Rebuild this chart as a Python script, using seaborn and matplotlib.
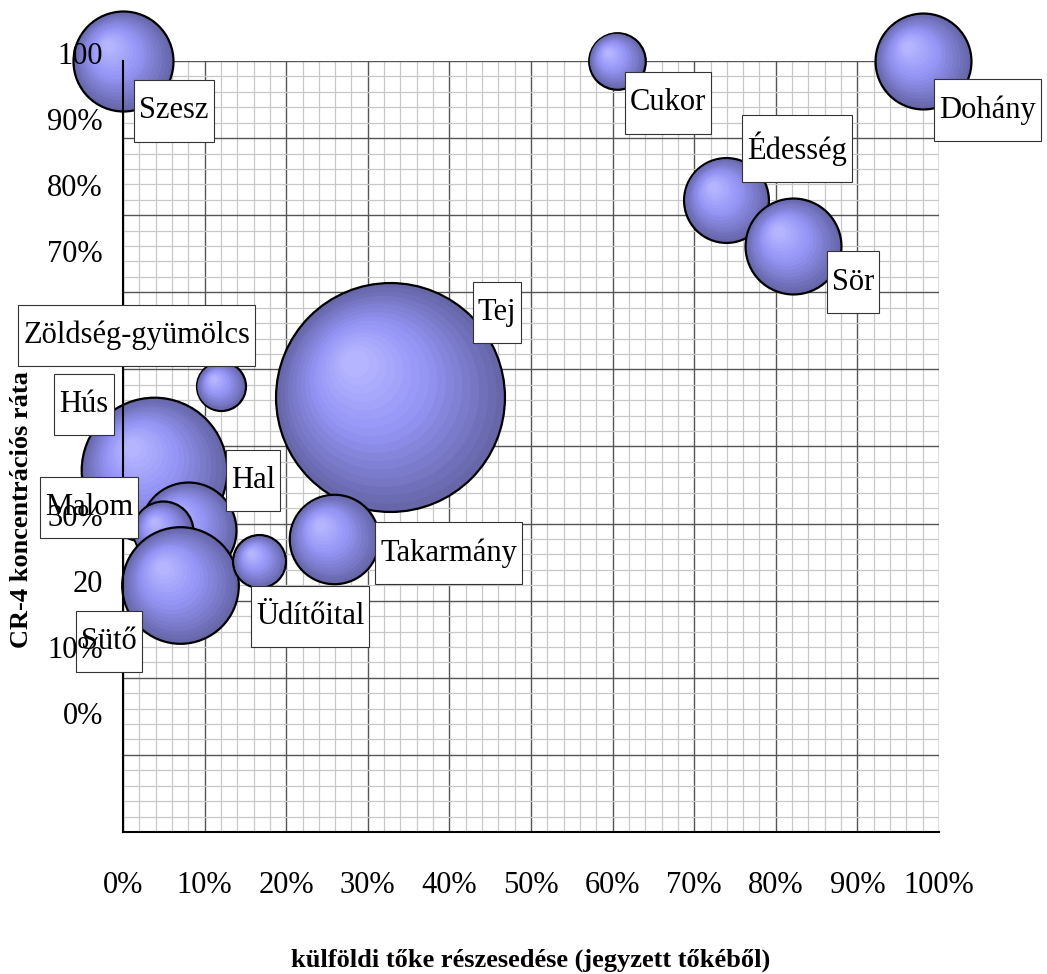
import numpy as np
import pandas as pd
import seaborn as sns
import matplotlib.pyplot as plt
from matplotlib.ticker import MultipleLocator, PercentFormatter
from matplotlib.transforms import ScaledTranslation
from matplotlib.offsetbox import TextArea, VPacker, DrawingArea, AnnotationBbox

# adatok (abrarol leolvasva)
agazat = ["Szesz", "Cukor", "Dohány", "Édesség", "Sör", "Tej", "Takarmány",
          "Zöldség-gyümölcs", "Hús", "Hal", "Malom", "Sütő", "Üdítőital"]
kulfoldi_toke = [0.00, 0.605, 0.98, 0.739, 0.821, 0.327, 0.258,
                 0.120, 0.038, 0.080, 0.049, 0.070, 0.167]
cr4 = [1.00, 1.00, 1.00, 0.82, 0.76, 0.564, 0.38,
       0.578, 0.47, 0.392, 0.39, 0.32, 0.351]
meret = [25, 8, 23, 18, 23, 131, 20, 6, 53, 23, 9, 34, 7]

# az y tengely feliratai ugy, ahogy a kepen latszanak
y_ertekek = np.arange(0, 1.01, 0.1)
y_feliratok = ["0%", "10%", "20", "30%", "", "", "", "70%", "80%", "90%", "100"]

# cimke dobozok eltolasa (pixel, jobbra / lefele)
cimke_eltolas = {
    "Szesz": (51, 50), "Cukor": (51, 42), "Dohány": (65, 49),
    "Édesség": (71, -51), "Sör": (60, 36), "Tej": (107, -85),
    "Takarmány": (115, 14), "Zöldség-gyümölcs": (-84, -51),
    "Hús": (-70, -65), "Hal": (65, -49), "Malom": (-74, -24),
    "Sütő": (-71, 56), "Üdítőital": (51, 55),
}

df = pd.DataFrame({"agazat": agazat, "kulfoldi": kulfoldi_toke,
                   "cr4": cr4, "meret": meret})

sns.set_style("white")
plt.rcParams["font.family"] = ["Liberation Serif", "DejaVu Serif"]
plt.rcParams.update({"text.color": "black", "axes.labelcolor": "black",
                     "xtick.color": "black", "ytick.color": "black"})

W, H = 1047, 974
fig = plt.figure(figsize=(W / 100, H / 100), dpi=100)
ax = fig.add_axes([123 / W, (H - 832) / H, 816 / W, 771 / H])

# racs
ax.set_xlim(0, 1)
ax.set_ylim(0, 1)
for a in (ax.xaxis, ax.yaxis):
    a.set_major_locator(MultipleLocator(0.1))
    a.set_minor_locator(MultipleLocator(0.02))
ax.set_axisbelow(True)
ax.grid(which="minor", color="#c8c8c8", lw=0.9)
ax.grid(which="major", color="#555555", lw=1.0)
ax.xaxis.set_major_formatter(PercentFormatter(1, decimals=0))
ax.tick_params(which="major", direction="out", length=7, width=1, color="black")
ax.tick_params(which="minor", length=0)
ax.tick_params(axis="x", labelsize=22, pad=21)
ax.tick_params(axis="y", labelleft=False)
for s in ("top", "right"):
    ax.spines[s].set_visible(False)
for s in ("left", "bottom"):
    ax.spines[s].set_color("black")
    ax.spines[s].set_linewidth(1.5)

# buborekok
k = 207.36
vmin, vmax = min(meret), max(meret)
szinek = [(0.0, np.array([0.40, 0.40, 0.66])),
          (0.55, np.array([0.58, 0.58, 0.96])),
          (1.0, np.array([0.71, 0.71, 1.00]))]


def szin(t):
    for (t0, c0), (t1, c1) in zip(szinek[:-1], szinek[1:]):
        if t <= t1:
            return c0 + (c1 - c0) * (t - t0) / (t1 - t0)
    return szinek[-1][1]


n = 16
for i in range(len(df)):
    sor = df.iloc[[i]]
    sns.scatterplot(data=sor, x="kulfoldi", y="cr4", size="meret",
                    sizes=(k * vmin, k * vmax), size_norm=(vmin, vmax),
                    color=szin(0), edgecolor="black", linewidth=1.6,
                    legend=False, clip_on=False, ax=ax)
    s = k * sor["meret"].iloc[0]
    r = np.sqrt(s) / 2
    for j in range(1, n + 1):
        t = j / n
        eltol = ScaledTranslation(-0.3 * r * t / 72, 0.3 * r * t / 72,
                                  fig.dpi_scale_trans)
        ax.scatter(sor["kulfoldi"], sor["cr4"], s=s * (1 - 0.88 * t) ** 2,
                   color=szin(t), linewidth=0, clip_on=False,
                   transform=ax.transData + eltol)

# cimkek
for nev, x, y in zip(agazat, kulfoldi_toke, cr4):
    dx, dy = cimke_eltolas[nev]
    ta = TextArea(nev, textprops=dict(fontsize=22, color="black"))
    doboz = VPacker(children=[DrawingArea(0, 8), ta, DrawingArea(0, 8)],
                    align="center", pad=0, sep=0)
    ab = AnnotationBbox(doboz, (x, y), xybox=(dx * 0.72, -dy * 0.72),
                        xycoords="data", boxcoords="offset points",
                        frameon=True, pad=0.36, fontsize=10,
                        bboxprops=dict(edgecolor="#333333", facecolor="white", lw=0.8),
                        annotation_clip=False, zorder=5)
    ax.add_artist(ab)

# tengelyfeliratok
ax.set_xlabel("külföldi tőke részesedése (jegyzett tőkéből)",
              fontsize=19, fontweight="bold", va="center")
ax.xaxis.set_label_coords(0.5, (832 - 960) / 771)
ax.set_ylabel("")
fig.text(22 / W, 1 - 510 / H, "CR-4 koncentrációs ráta", fontsize=19,
         fontweight="bold", rotation=90, ha="center", va="center")

# y tengely szazalekos feliratai
ax_lab = fig.add_axes([123 / W, (H - 713) / H, 0.005, 660 / H])
ax_lab.set_ylim(0, 1)
ax_lab.set_yticks(y_ertekek, y_feliratok)
ax_lab.tick_params(axis="y", length=0, labelsize=22, pad=14.5)
ax_lab.xaxis.set_visible(False)
for s in ax_lab.spines.values():
    s.set_visible(False)
ax_lab.patch.set_visible(False)
ax_lab.set_zorder(ax.get_zorder() + 1)

fig.savefig("out.png", dpi=100, facecolor="white")
